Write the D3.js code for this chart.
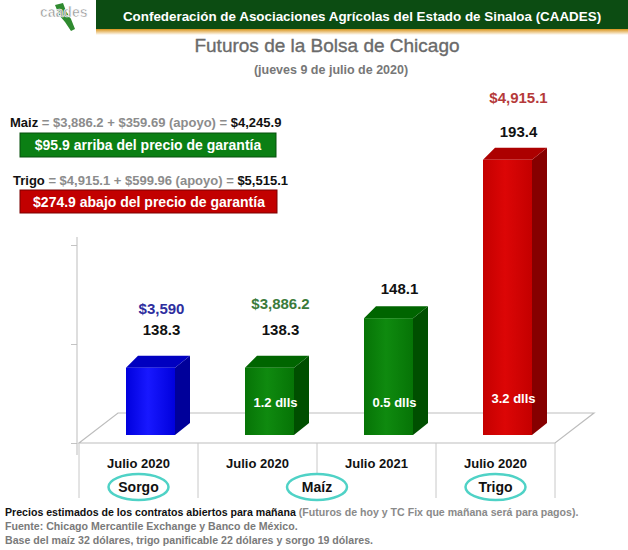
<!DOCTYPE html>
<html><head><meta charset="utf-8">
<script src="https://cdn.jsdelivr.net/npm/d3@7/dist/d3.min.js"></script>
<style>
body{margin:0;background:#fff}
svg{display:block}
text{font-family:"Liberation Sans",Arial,Helvetica,sans-serif}
</style>
</head><body>
<svg id="c" width="628" height="550"></svg>
<script>
// ---------- data ----------
const categories   = ["Julio 2020", "Julio 2020", "Julio 2021", "Julio 2020"];
const groupNames   = ["Sorgo", "Maíz", "Trigo"];
const groupOfBar   = [0, 1, 1, 2];
const barValues    = [68, 68, 118, 278];          // bar heights read against the axis
const valueLabels  = ["138.3", "138.3", "148.1", "193.4"];
const priceLabels  = ["$3,590", "$3,886.2", "", "$4,915.1"];
const insideLabels = ["", "1.2 dlls", "0.5 dlls", "3.2 dlls"];
const yTicks       = [0, 100, 200];
const colorKeys    = ["blue", "green", "green", "red"];

// ---------- styles / layout ----------
const palette = {
  blue:  {front1:"#1818ff", front2:"#0000dd", top:"#0000c0", side:"#00009a", price:"#2e2e9e"},
  green: {front1:"#0f8a0f", front2:"#067406", top:"#006500", side:"#004f00", price:"#3b7b3b"},
  red:   {front1:"#dc0606", front2:"#c40000", top:"#ac0000", side:"#860000", price:"#b53a3a"}
};
const valueGap  = [33, 33, 24, 23];
const priceGap  = [54, 59, 0, 57];
const insideGap = [0, 28, 28, 32];

const svg = d3.select("#c");
const defs = svg.append("defs");

// ---------- header ----------
const hg = defs.append("linearGradient").attr("id","gold").attr("x1",0).attr("x2",0).attr("y1",0).attr("y2",1);
hg.append("stop").attr("offset","0%").attr("stop-color","#d9941a");
hg.append("stop").attr("offset","100%").attr("stop-color","#ffffff");
svg.append("rect").attr("x",96).attr("y",0).attr("width",532).attr("height",30).attr("fill","#0c4c12");
svg.append("rect").attr("x",96).attr("y",29).attr("width",532).attr("height",6).attr("fill","url(#gold)");
svg.append("text").attr("x",362).attr("y",21).attr("text-anchor","middle")
  .attr("fill","#fff").attr("font-weight","bold").attr("font-size",13.4)
  .text("Confederación de Asociaciones Agrícolas del Estado de Sinaloa (CAADES)");

// logo
svg.append("path").attr("d","M55,5 L63,3 L66,11 L71,19 L75,29 L71,31 L65,22 L59,15 Z").attr("fill","#2f8a2f");
svg.append("text").attr("x",40).attr("y",17).attr("font-size",14).attr("fill","#9a9a9a")
  .attr("stroke","#fff").attr("stroke-width",0.6).attr("font-weight","bold")
  .text("caades");

// ---------- titles ----------
svg.append("text").attr("x",327).attr("y",52).attr("text-anchor","middle")
  .attr("font-size",19).attr("fill","#6a6a6a").attr("stroke","#6a6a6a").attr("stroke-width",0.35)
  .text("Futuros de la Bolsa de Chicago");
svg.append("text").attr("x",331).attr("y",74).attr("text-anchor","middle")
  .attr("font-size",12.5).attr("font-weight","bold").attr("fill","#777")
  .text("(jueves 9 de julio de 2020)");

// ---------- annotations ----------
function formulaLine(x, y, name, mid, total){
  const t = svg.append("text").attr("x",x).attr("y",y).attr("font-size",13).attr("font-weight","bold");
  t.append("tspan").attr("fill","#111").text(name);
  t.append("tspan").attr("fill","#8c8c8c").text(mid);
  t.append("tspan").attr("fill","#111").text(total);
}
formulaLine(10,127,"Maiz"," = $3,886.2 + $359.69 (apoyo) = ","$4,245.9");
svg.append("rect").attr("x",20).attr("y",133).attr("width",256).attr("height",24).attr("fill","#0b7f14").attr("stroke","#06500c");
svg.append("text").attr("x",148).attr("y",150).attr("text-anchor","middle").attr("fill","#fff")
  .attr("font-size",14).attr("font-weight","bold").text("$95.9 arriba del precio de garantía");
formulaLine(13,185,"Trigo"," = $4,915.1 + $599.96 (apoyo) = ","$5,515.1");
svg.append("rect").attr("x",20).attr("y",190).attr("width",257).attr("height",23).attr("fill","#c20000").attr("stroke","#7a0000");
svg.append("text").attr("x",149).attr("y",207).attr("text-anchor","middle").attr("fill","#fff")
  .attr("font-size",14).attr("font-weight","bold").text("$274.9 abajo del precio de garantía");

// ---------- scales ----------
const idx = d3.range(categories.length);
const x = d3.scaleBand().domain(idx).range([79, 555]).padding(0);
const y = d3.scaleLinear().domain([0, 200]).range([443, 245]);
const floorDX = 39, floorDY = 30;
const depthX = 15, depthY = 12;
const barW = 49, barInset = 47, lift = 8;

// y axis
const ax = svg.append("g").attr("transform","translate(77,0)")
  .call(d3.axisLeft(y).tickValues(yTicks).tickSize(6).tickFormat(""));
ax.select(".domain").remove();
ax.selectAll(".tick line").attr("stroke","#c4c4c4");
svg.append("line").attr("x1",77).attr("x2",77).attr("y1",237).attr("y2",455).attr("stroke","#bdbdbd");

// floor
const x0 = x.range()[0], x1 = x.range()[1], yb = y(0);
svg.append("path")
  .attr("d",`M${x0},${yb} L${x0+floorDX},${yb-floorDY} L${x1+floorDX},${yb-floorDY} L${x1},${yb} Z`)
  .attr("fill","none").attr("stroke","#bdbdbd").attr("stroke-width",1.2);

// separators
const seps = idx.map(i => x(i)).concat([x1]);
svg.selectAll("line.sep").data(seps).join("line").attr("class","sep")
  .attr("x1",d=>d).attr("x2",d=>d).attr("y1",yb).attr("y2",498).attr("stroke","#c8c8c8");

// gradients
Object.entries(palette).forEach(([k,p])=>{
  const g = defs.append("linearGradient").attr("id","fg-"+k).attr("x1",0).attr("x2",1).attr("y1",0).attr("y2",0);
  g.append("stop").attr("offset","0%").attr("stop-color",p.front2);
  g.append("stop").attr("offset","45%").attr("stop-color",p.front1);
  g.append("stop").attr("offset","100%").attr("stop-color",p.front2);
});

// bars
const bars = svg.selectAll("g.bar").data(idx).join("g").attr("class","bar");
bars.each(function(i){
  const g = d3.select(this);
  const p = palette[colorKeys[i]];
  const xl = x(i) + barInset, xr = xl + barW;
  const top = y(barValues[i]) - lift, bot = y(0) - lift;
  g.append("path").attr("d",`M${xr},${top} L${xr+depthX},${top-depthY} L${xr+depthX},${bot-depthY} L${xr},${bot} Z`).attr("fill",p.side);
  g.append("path").attr("d",`M${xl},${top} L${xl+depthX-3},${top-depthY} L${xr+depthX},${top-depthY} L${xr},${top} Z`).attr("fill",p.top);
  g.append("rect").attr("x",xl).attr("y",top).attr("width",barW).attr("height",bot-top).attr("fill",`url(#fg-${colorKeys[i]})`);
  const cx = xl + barW/2;
  g.append("text").attr("x",cx+11).attr("y",top-valueGap[i]).attr("text-anchor","middle")
    .attr("font-size",15).attr("font-weight","bold").attr("fill","#111").text(valueLabels[i]);
  if (priceLabels[i]) g.append("text").attr("x",cx+11).attr("y",top-priceGap[i]).attr("text-anchor","middle")
    .attr("font-size",15).attr("font-weight","bold").attr("fill",p.price).text(priceLabels[i]);
  if (insideLabels[i]) g.append("text").attr("x",cx+6).attr("y",bot-insideGap[i]).attr("text-anchor","middle")
    .attr("font-size",13).attr("font-weight","bold").attr("fill","#fff").text(insideLabels[i]);
});

// category labels
svg.selectAll("text.cat").data(idx).join("text").attr("class","cat")
  .attr("x",i=>x(i)+x.bandwidth()/2).attr("y",468).attr("text-anchor","middle")
  .attr("font-size",13).attr("font-weight","bold").attr("fill","#111").text(i=>categories[i]);

// group ellipses
groupNames.forEach((name,gi)=>{
  const members = idx.filter(i=>groupOfBar[i]===gi);
  const cx = d3.mean(members, i=>x(i)+x.bandwidth()/2);
  svg.append("ellipse").attr("cx",cx).attr("cy",487).attr("rx",30).attr("ry",13)
    .attr("fill","#fff").attr("stroke","#4fd2c6").attr("stroke-width",2.5);
  svg.append("text").attr("x",cx).attr("y",492).attr("text-anchor","middle")
    .attr("font-size",14).attr("font-weight","bold").attr("fill","#111").text(name);
});

// footer
const f1 = svg.append("text").attr("x",5).attr("y",516).attr("font-size",10.6).attr("font-weight","bold");
f1.append("tspan").attr("fill","#111").text("Precios estimados de los contratos abiertos para mañana");
f1.append("tspan").attr("fill","#8a8a8a").text(" (Futuros de hoy y TC Fix que mañana será para pagos).");
svg.append("text").attr("x",5).attr("y",530).attr("font-size",10.6).attr("font-weight","bold").attr("fill","#7a7a7a")
  .text("Fuente: Chicago Mercantile Exchange y Banco de México.");
svg.append("text").attr("x",5).attr("y",544).attr("font-size",10.6).attr("font-weight","bold").attr("fill","#7a7a7a")
  .text("Base del maíz 32 dólares, trigo panificable 22 dólares y sorgo 19 dólares.");
</script>
</body></html>
